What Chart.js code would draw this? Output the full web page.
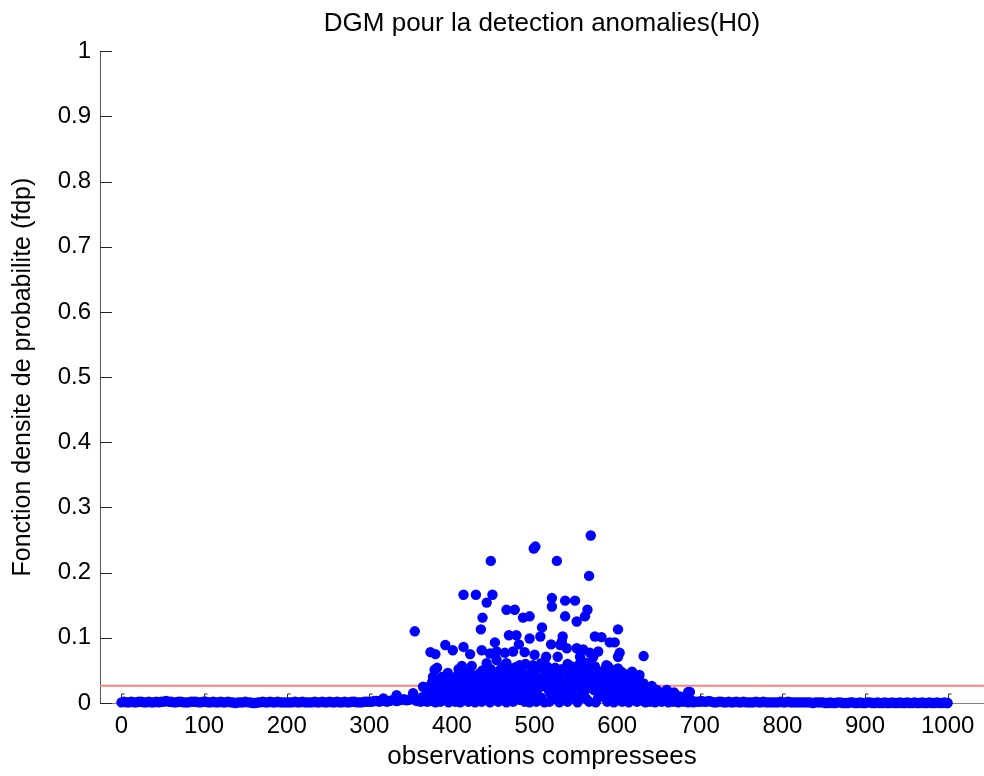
<!DOCTYPE html>
<html lang="fr">
<head>
<meta charset="utf-8">
<title>DGM pour la detection anomalies(H0)</title>
<script src="https://cdn.jsdelivr.net/npm/chart.js@4.4.1/dist/chart.umd.min.js"></script>
<style>
  html, body { margin: 0; padding: 0; background: #fff; overflow: hidden; }
  canvas { display: block; }
</style>
</head>
<body>
<canvas id="dgmChart" width="984" height="776"></canvas>
<script>
"use strict";

const titre  = 'DGM pour la detection anomalies(H0)';
const xLabel = 'observations compressees';
const yLabel = 'Fonction densite de probabilite (fdp)';

const xTicks = [0, 100, 200, 300, 400, 500, 600, 700, 800, 900, 1000];
const yTicks = [0, 0.1, 0.2, 0.3, 0.4, 0.5, 0.6, 0.7, 0.8, 0.9, 1];
const xMin = -26, xMax = 1044;

// seuil de detection (ligne rouge)
const seuil = 0.0265;

// observations [x, fdp]
const baseGauche = [
  [0,0.001],[6,0.001],[12,0.002],[18,0.001],[24,0.002],[30,0.001],[36,0.001],[42,0.002],[48,0.002],[54,0.003],
  [60,0.002],[66,0.001],[72,0.002],[78,0.001],[84,0.002],[90,0.002],[96,0.001],[102,0.002],[108,0.001],[114,0.001],
  [120,0.002],[126,0.001],[132,0.001],[138,0.000],[144,0.001],[150,0.002],[156,0.001],[162,0.000],[168,0.001],[174,0.001],
  [180,0.002],[186,0.001],[192,0.001],[198,0.001],[204,0.001],[210,0.002],[216,0.001],[222,0.001],[228,0.001],[234,0.002],
  [240,0.001],[246,0.001],[252,0.002],[258,0.001],[264,0.001],[270,0.002],[276,0.001],[282,0.002],[288,0.001],[294,0.002],
  [300,0.002],[306,0.003],[312,0.002],[318,0.004],[324,0.003],[330,0.005],[336,0.004],[342,0.006],[348,0.005]
];

const baseGauche2 = [
  [3,0.002],[9,0.001],[15,0.001],[21,0.002],[27,0.001],[33,0.002],[39,0.001],[45,0.001],[51,0.002],[57,0.002],
  [63,0.001],[69,0.002],[75,0.001],[81,0.001],[87,0.002],[93,0.001],[99,0.002],[105,0.001],[111,0.002],[117,0.001],
  [123,0.001],[129,0.002],[135,0.001],[141,0.001],[147,0.001],[153,0.001],[159,0.000],[165,0.001],[171,0.002],[177,0.001],
  [183,0.001],[189,0.002],[195,0.001],[201,0.001],[207,0.001],[213,0.001],[219,0.002],[225,0.001],[231,0.001],[237,0.001],
  [243,0.002],[249,0.001],[255,0.001],[261,0.002],[267,0.001],[273,0.001],[279,0.002],[285,0.001],[291,0.001],[297,0.002],
  [303,0.002],[309,0.003],[315,0.003],[321,0.002],[327,0.004],[333,0.003],[339,0.005],[345,0.004]
];

const baseDroite = [
  [702,0.003],[708,0.002],[714,0.002],[720,0.001],[726,0.002],[732,0.001],[738,0.001],[744,0.002],[750,0.001],[756,0.001],
  [762,0.001],[768,0.002],[774,0.001],[780,0.001],[786,0.001],[792,0.001],[798,0.002],[804,0.001],[810,0.001],[816,0.001],
  [822,0.001],[828,0.001],[834,0.001],[840,0.001],[846,0.001],[852,0.000],[858,0.001],[864,0.000],[870,0.001],[876,0.000],
  [882,0.001],[888,0.000],[894,0.001],[900,0.000],[906,0.001],[912,0.000],[918,0.000],[924,0.001],[930,0.000],[936,0.000],
  [942,0.001],[948,0.000],[954,0.000],[960,0.001],[966,0.000],[972,0.000],[978,0.001],[984,0.000],[990,0.000],[996,0.001],
  [1000,0.000]
];

const baseDroite2 = [
  [705,0.002],[711,0.003],[717,0.001],[723,0.002],[729,0.001],[735,0.002],[741,0.001],[747,0.001],[753,0.002],[759,0.001],
  [765,0.001],[771,0.001],[777,0.002],[783,0.001],[789,0.001],[795,0.001],[801,0.001],[807,0.002],[813,0.001],[819,0.001],
  [825,0.001],[831,0.001],[837,0.000],[843,0.001],[849,0.001],[855,0.000],[861,0.000],[867,0.001],[873,0.000],[879,0.000],
  [885,0.001],[891,0.000],[897,0.000],[903,0.001],[909,0.000],[915,0.001],[921,0.000],[927,0.000],[933,0.001],[939,0.000],
  [945,0.000],[951,0.001],[957,0.000],[963,0.000],[969,0.001],[975,0.000],[981,0.000],[987,0.001],[993,0.000],[999,0.000]
];

const nuageZero = [
  [352,0.006],[358,0.003],[362,0.002],[366,0.003],[370,0.002],[374,0.003],[380,0.001],[386,0.002],[396,0.001],[404,0.002],
  [410,0.001],[420,0.002],[428,0.001],[436,0.002],[446,0.001],[456,0.002],[466,0.001],[474,0.002],[488,0.002],[494,0.001],
  [502,0.002],[512,0.001],[530,0.001],[540,0.002],[552,0.001],[566,0.002],[574,0.001],[588,0.002],[596,0.001],[606,0.002],
  [614,0.001],[624,0.002],[634,0.001],[640,0.002],[646,0.001],[654,0.002],[662,0.001],[668,0.002],[674,0.001],[680,0.002],
  [686,0.001],[692,0.001],[698,0.002]
];

const nuageBas = [
  [356,0.004],[360,0.006],[364,0.009],[368,0.005],[372,0.012],[376,0.008],[378,0.020],[383,0.012],[386,0.030],[389,0.006],
  [391,0.018],[395,0.014],[399,0.022],[402,0.008],[404,0.035],[409,0.016],[411,0.028],[413,0.004],[416,0.038],[420,0.022],
  [423,0.013],[427,0.034],[429,0.006],[432,0.026],[434,0.046],[438,0.015],[440,0.030],[443,0.008],[445,0.041],[448,0.022],
  [452,0.014],[456,0.038],[459,0.052],[461,0.018],[464,0.009],[467,0.048],[472,0.035],[475,0.022],[477,0.055],[484,0.018],
  [486,0.045],[490,0.026],[492,0.010],[495,0.036],[498,0.058],[503,0.020],[505,0.033],[508,0.008],[511,0.040],[513,0.026],
  [516,0.055],[519,0.015],[524,0.038],[526,0.006],[529,0.022],[533,0.052],[535,0.030],[541,0.020],[544,0.042],[548,0.025],
  [550,0.008],[553,0.048],[557,0.018],[561,0.040],[563,0.006],[565,0.026],[569,0.060],[572,0.020],[575,0.045],[577,0.008],
  [582,0.028],[584,0.050],[586,0.014],[590,0.038],[593,0.022],[596,0.006],[598,0.040],[603,0.020],[605,0.048],[609,0.012],
  [612,0.025],[617,0.018],[619,0.006],[621,0.030],[625,0.012],[628,0.022],[630,0.004],[635,0.016],[638,0.008],[641,0.012],
  [644,0.005],[649,0.009],[652,0.004],[655,0.012],[658,0.006],[664,0.008],[667,0.004],[670,0.010],[673,0.003],[679,0.005],
  [683,0.003],[690,0.004],[695,0.002],[700,0.002]
];

const nuageDense = [
  [373,0.018],[376,0.032],[384,0.022],[388,0.040],[392,0.010],[395,0.046],[400,0.030],[403,0.015],[408,0.052],[410,0.036],
  [414,0.020],[417,0.030],[421,0.048],[425,0.008],[428,0.042],[431,0.018],[433,0.034],[437,0.050],[439,0.024],[441,0.044],
  [444,0.028],[447,0.052],[449,0.012],[451,0.046],[453,0.024],[457,0.020],[460,0.040],[463,0.056],[465,0.030],[468,0.012],
  [471,0.052],[473,0.008],[476,0.034],[479,0.046],[481,0.022],[483,0.050],[485,0.006],[487,0.030],[489,0.060],[491,0.040],
  [493,0.022],[497,0.044],[499,0.030],[501,0.012],[504,0.054],[506,0.024],[509,0.036],[512,0.062],[515,0.034],[517,0.020],
  [520,0.046],[523,0.012],[525,0.054],[527,0.030],[530,0.040],[532,0.016],[536,0.046],[538,0.022],[540,0.060],[542,0.034],
  [546,0.012],[549,0.036],[552,0.026],[554,0.058],[556,0.036],[558,0.050],[560,0.016],[562,0.062],[564,0.034],[568,0.024],
  [570,0.040],[573,0.056],[576,0.030],[578,0.048],[580,0.022],[583,0.040],[585,0.030],[588,0.044],[591,0.012],[594,0.050],
  [597,0.026],[600,0.040],[602,0.008],[604,0.030],[607,0.022],[610,0.044],[613,0.014],[616,0.028],[618,0.048],[620,0.020],
  [623,0.026],[626,0.034],[629,0.016],[632,0.030],[636,0.022],[639,0.018],[642,0.026],[645,0.014],[648,0.020],[651,0.012],
  [656,0.016],[659,0.010],[663,0.014],[666,0.012],[669,0.016],[672,0.008],[676,0.006],[681,0.008],[685,0.006]
];

const nuageHaut = [
  [355,0.110],[414,0.166],[429,0.166],[449,0.166],[442,0.154],[447,0.218],[466,0.143],[476,0.143],[437,0.131],[435,0.113],
  [469,0.104],[478,0.104],[452,0.093],[392,0.089],[374,0.078],[380,0.075],[401,0.081],[414,0.086],[422,0.075],[436,0.081],
  [446,0.076],[454,0.079],[464,0.077],[474,0.079],[412,0.057],[424,0.057],[442,0.061],[454,0.066],[379,0.051],[382,0.054],
  [377,0.040],[397,0.040],[407,0.043],[418,0.046],[430,0.040],[365,0.025],[381,0.028],[393,0.030],[450,0.031],[462,0.035],
  [470,0.025],[480,0.031],[406,0.025],[426,0.020],[418,0.010],[393,0.005],[371,0.015],[353,0.015],[333,0.012],[317,0.007],
  [458,0.005],[397,0.033],[369,0.024],[385,0.017],[422,0.028],[444,0.017],[458,0.007],[470,0.020],[478,0.012],[454,0.033],
  [468,0.030],[482,0.033],
  [568,0.257],[499,0.237],[501,0.240],[527,0.218],[566,0.195],[521,0.161],[521,0.148],[537,0.157],[549,0.157],[564,0.143],
  [561,0.133],[537,0.133],[551,0.125],[486,0.131],[494,0.133],[509,0.116],[601,0.113],[494,0.099],[507,0.102],[534,0.102],
  [533,0.094],[573,0.102],[581,0.101],[591,0.093],[597,0.093],[481,0.090],[520,0.090],[531,0.089],[539,0.084],[551,0.084],
  [559,0.082],[567,0.077],[577,0.079],[488,0.078],[500,0.074],[514,0.071],[601,0.071],[603,0.077],[632,0.072],[528,0.071],
  [555,0.071],[571,0.071],[466,0.061],[482,0.058],[496,0.053],[508,0.061],[545,0.056],[555,0.061],[567,0.048],[589,0.056],
  [599,0.051],[627,0.043],[623,0.040],[458,0.046],[470,0.040],[488,0.040],[502,0.043],[514,0.046],[531,0.043],[547,0.040],
  [559,0.030],[579,0.035],[595,0.035],[611,0.033],[462,0.028],[482,0.030],[498,0.025],[522,0.028],[539,0.030],[470,0.015],
  [482,0.010],[498,0.012],[537,0.012],[543,0.012],[559,0.010],[579,0.015],[599,0.012],[518,0.002],[460,0.005],[482,0.005],
  [615,0.010],[631,0.015],[647,0.010],[660,0.015],[676,0.010],[686,0.017],[587,0.058],[601,0.053],[607,0.035],[615,0.036],
  [633,0.025],[660,0.020],[688,0.017],[661,0.018]
];

const police = "'Liberation Sans', Arial, sans-serif";

// petites graduations vers l'interieur, facon matlab
const graduations = {
  id: 'graduations',
  beforeDatasetsDraw(chart) {
    const { ctx, chartArea: ca, scales: { x, y } } = chart;
    ctx.save();
    ctx.strokeStyle = '#262626';
    ctx.lineWidth = 1;
    ctx.beginPath();
    yTicks.forEach(v => {
      const py = Math.round(y.getPixelForValue(v)) + 0.5;
      ctx.moveTo(ca.left, py);
      ctx.lineTo(ca.left + 12, py);
    });
    xTicks.forEach(v => {
      const px = Math.round(x.getPixelForValue(v)) + 0.5;
      ctx.moveTo(px, ca.bottom);
      ctx.lineTo(px, ca.bottom - 9);
      ctx.lineTo(px + 3, ca.bottom - 9);
    });
    ctx.stroke();
    ctx.restore();
  }
};

const points = [...baseGauche, ...baseGauche2, ...nuageZero, ...nuageBas, ...nuageDense, ...nuageHaut, ...baseDroite, ...baseDroite2]
  .map(([x, y]) => ({ x, y }));

new Chart(document.getElementById('dgmChart').getContext('2d'), {
  type: 'scatter',
  data: {
    datasets: [
      {
        label: 'fdp',
        data: points,
        pointRadius: 5.2,
        pointHoverRadius: 5.2,
        backgroundColor: '#0000ff',
        borderColor: '#0000ff',
        borderWidth: 0,
        clip: false
      },
      {
        label: 'seuil',
        data: [{ x: xMin, y: seuil }, { x: xMax, y: seuil }],
        showLine: true,
        borderColor: '#ff8080',
        borderWidth: 2,
        pointRadius: 0
      }
    ]
  },
  options: {
    responsive: false,
    animation: false,
    devicePixelRatio: 1,
    // pas de marge auto pour les points : l'axe x va jusqu'au bord droit
    layout: { autoPadding: false, padding: 0 },
    plugins: {
      legend: { display: false },
      tooltip: { enabled: false },
      title: {
        display: true,
        text: titre,
        fullSize: false,
        color: '#000',
        font: { family: police, size: 26, weight: 'normal' },
        padding: { top: 8, bottom: 12 }
      }
    },
    scales: {
      x: {
        type: 'linear',
        min: xMin,
        max: xMax,
        afterBuildTicks: s => { s.ticks = xTicks.map(v => ({ value: v })); },
        afterFit: s => { s.height = 73; s.paddingRight = 0; },
        ticks: { color: '#000', padding: 0, font: { family: police, size: 24, lineHeight: 1.92 }, callback: v => String(v) },
        grid: { display: false, drawTicks: false },
        border: { display: true, color: '#808080', width: 1 },
        title: { display: true, text: xLabel, color: '#000', font: { family: police, size: 26 }, padding: { top: 0, bottom: 4 } }
      },
      y: {
        type: 'linear',
        min: 0,
        max: 1,
        afterBuildTicks: s => { s.ticks = yTicks.map(v => ({ value: v })); },
        afterFit: s => { s.width = 100; },
        ticks: { color: '#000', padding: 9, font: { family: police, size: 24 }, callback: v => String(v) },
        grid: { display: false, drawTicks: false },
        border: { display: true, color: '#555', width: 1 },
        title: { display: true, text: yLabel, color: '#000', font: { family: police, size: 25 }, padding: { top: 8, bottom: 0 } }
      }
    }
  },
  plugins: [graduations]
});
</script>
</body>
</html>
